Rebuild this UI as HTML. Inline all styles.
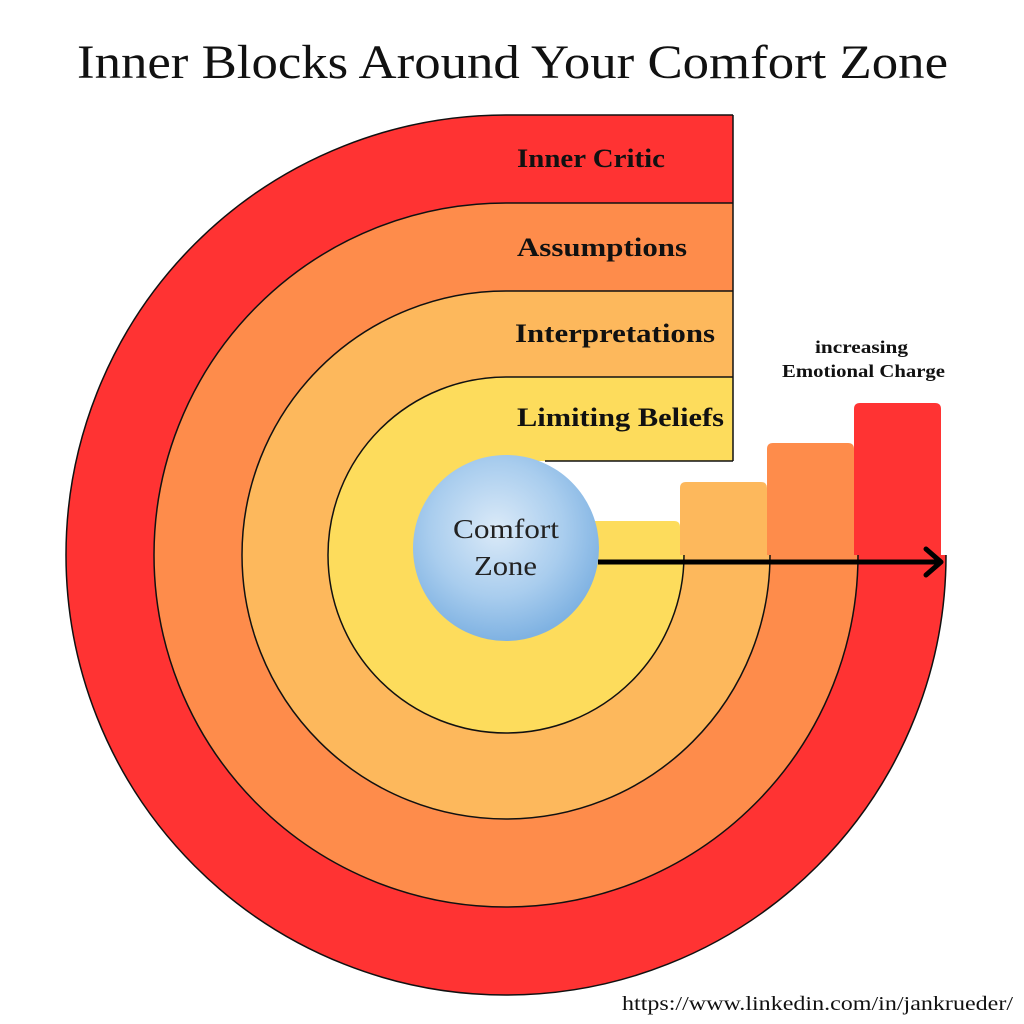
<!DOCTYPE html>
<html><head><meta charset="utf-8"><style>
html,body{margin:0;padding:0;background:#fff;}
svg{display:block;}
</style></head><body>
<svg width="1024" height="1024" viewBox="0 0 1024 1024" xmlns="http://www.w3.org/2000/svg">
<defs>
<radialGradient id="bl" cx="45%" cy="40%" r="60%">
<stop offset="0" stop-color="#dbeaf8"/>
<stop offset="0.6" stop-color="#a9cdee"/>
<stop offset="1" stop-color="#7fb2e2"/>
</radialGradient>
</defs>
<text x="77" y="78" textLength="871" lengthAdjust="spacingAndGlyphs" font-family="Liberation Serif, serif" font-size="48" fill="#111">Inner Blocks Around Your Comfort Zone</text>

<path d="M506,555 L506,115 A440,440 0 1 0 946,555 Z" fill="#ff3333"/>
<rect x="506" y="115" width="227" height="88" fill="#ff3333"/>
<path d="M854,555 L854,409 Q854,403 860,403 L935,403 Q941,403 941,409 L941,555 Z" fill="#ff3333"/>
<path d="M506,555 L506,203 A352,352 0 1 0 858,555 Z" fill="#fe8c4b"/>
<rect x="506" y="203" width="227" height="88" fill="#fe8c4b"/>
<path d="M767,555 L767,449 Q767,443 773,443 L848,443 Q854,443 854,449 L854,555 Z" fill="#fe8c4b"/>
<path d="M506,555 L506,291 A264,264 0 1 0 770,555 Z" fill="#fdb85c"/>
<rect x="506" y="291" width="227" height="86" fill="#fdb85c"/>
<path d="M680,555 L680,488 Q680,482 686,482 L761,482 Q767,482 767,488 L767,555 Z" fill="#fdb85c"/>
<path d="M506,555 L506,377 A178,178 0 1 0 684,555 Z" fill="#fddc5c"/>
<rect x="506" y="377" width="227" height="84" fill="#fddc5c"/>
<path d="M560,555 L560,527 Q560,521 566,521 L674,521 Q680,521 680,527 L680,555 Z" fill="#fddc5c"/>

<g fill="none" stroke="#111" stroke-width="1.5">
<path d="M733,115 L506,115 A440,440 0 1 0 946,555"/>
<path d="M733,115 L733,461"/>
<path d="M733,203 L506,203 A352,352 0 1 0 858,555"/>
<path d="M733,291 L506,291 A264,264 0 1 0 770,555"/>
<path d="M733,377 L506,377 A178,178 0 1 0 684,555"/>
<path d="M733,461 L545,461"/>
</g>

<circle cx="506" cy="548" r="93" fill="url(#bl)"/>
<text x="453" y="538" textLength="106" lengthAdjust="spacingAndGlyphs" font-family="Liberation Serif, serif" font-size="27" fill="#222">Comfort</text>
<text x="474" y="575" textLength="63" lengthAdjust="spacingAndGlyphs" font-family="Liberation Serif, serif" font-size="27" fill="#222">Zone</text>

<line x1="598" y1="562" x2="940" y2="562" stroke="#000" stroke-width="5"/>
<path d="M926,549 L941,562 L926,575" fill="none" stroke="#000" stroke-width="5" stroke-linecap="round" stroke-linejoin="round"/>

<g font-family="Liberation Serif, serif" font-weight="bold" font-size="26" fill="#111" lengthAdjust="spacingAndGlyphs">
<text x="517" y="167" textLength="148" lengthAdjust="spacingAndGlyphs">Inner Critic</text>
<text x="517" y="256" textLength="170" lengthAdjust="spacingAndGlyphs">Assumptions</text>
<text x="515" y="342" textLength="200" lengthAdjust="spacingAndGlyphs">Interpretations</text>
<text x="517" y="426" textLength="207" lengthAdjust="spacingAndGlyphs">Limiting Beliefs</text>
</g>
<g font-family="Liberation Serif, serif" font-weight="bold" font-size="18" fill="#111">
<text x="815" y="353" textLength="93" lengthAdjust="spacingAndGlyphs">increasing</text>
<text x="782" y="377" textLength="163" lengthAdjust="spacingAndGlyphs">Emotional  Charge</text>
</g>
<text x="622" y="1010" textLength="391" lengthAdjust="spacingAndGlyphs" font-family="Liberation Serif, serif" font-size="20" fill="#111">https://www.linkedin.com/in/jankrueder/</text>
</svg>
</body></html>
